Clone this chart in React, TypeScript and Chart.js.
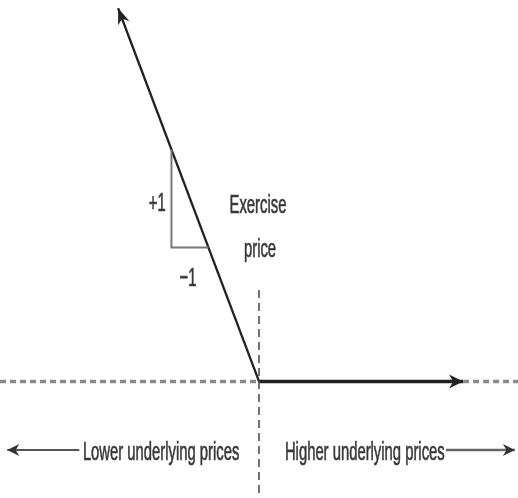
import React, { useEffect, useRef } from "react";
import { Chart, registerables } from "chart.js";

Chart.register(...registerables);

// ---- data (x = underlying price, y = payoff) ----
const exercisePrice = 50;
const payoffPrices = [22.8, 50, 89.4];
const payoffValues = [27.2, 0, 0];
const slopeTrianglePrices = [33.1, 33.1, 40.24];
const slopeTriangleValues = [16.9, 9.76, 9.76];
const zeroAxisLeftPrices = [0, 50];
const zeroAxisRightPrices = [89.4, 100];
const zeroAxisValues = [0, 0];
const strikeLineValues = [6.66, -8.5];
const lowerArrowPrices = [15.3, 1.4];
const higherArrowPrices = [86.1, 99.4];
const directionArrowValue = -5;

const labelTexts = ["Exercise", "price", "+1", "\u22121", "Lower underlying prices", "Higher underlying prices"];
const labelPrices = [49.8, 50.2, 32.0, 36.3, 16.0, 55.0];
const labelValues = [12.27, 9.07, 12.42, 6.96, -5.75, -5.75];
const labelAligns = ["center", "center", "right", "center", "left", "left"];

const X_MIN = 0, X_MAX = 100, Y_MIN = -8.5, Y_MAX = 27.8;

const pts = (xs: number[], ys: number[]) => xs.map((x, i) => ({ x, y: ys[i] }));

function arrowHead(ctx: CanvasRenderingContext2D, fx: number, fy: number, tx: number, ty: number, len: number, half: number, color: string) {
  const a = Math.atan2(ty - fy, tx - fx);
  ctx.save();
  ctx.translate(tx, ty);
  ctx.rotate(a);
  ctx.fillStyle = color;
  ctx.beginPath();
  ctx.moveTo(0, 0);
  ctx.lineTo(-len, -half);
  ctx.lineTo(-len * 0.7, 0);
  ctx.lineTo(-len, half);
  ctx.closePath();
  ctx.fill();
  ctx.restore();
}

const overlayPlugin = {
  id: "overlay",
  afterDatasetsDraw(chart: any) {
    const { ctx, scales } = chart;
    const px = (v: number) => scales.x.getPixelForValue(v);
    const py = (v: number) => scales.y.getPixelForValue(v);
    // arrow heads
    arrowHead(ctx, px(payoffPrices[1]), py(payoffValues[1]), px(payoffPrices[0]), py(payoffValues[0]), 16, 6, "#222");
    arrowHead(ctx, px(payoffPrices[1]), py(payoffValues[1]), px(payoffPrices[2]), py(payoffValues[2]), 14, 7, "#222");
    arrowHead(ctx, px(lowerArrowPrices[0]), py(directionArrowValue), px(lowerArrowPrices[1]), py(directionArrowValue), 12, 6, "#333");
    arrowHead(ctx, px(higherArrowPrices[0]), py(directionArrowValue), px(higherArrowPrices[1]), py(directionArrowValue), 12, 6, "#333");
    // labels
    ctx.save();
    ctx.fillStyle = "#333";
    ctx.strokeStyle = "#444";
    ctx.lineWidth = 0.7;
    ctx.font = "26px 'Liberation Sans', Arial, sans-serif";
    ctx.textBaseline = "alphabetic";
    labelTexts.forEach((t, i) => {
      ctx.save();
      ctx.translate(px(labelPrices[i]), py(labelValues[i]));
      ctx.scale(0.57, 1);
      ctx.textAlign = labelAligns[i] as CanvasTextAlign;
      ctx.fillText(t, 0, 0);
      ctx.strokeText(t, 0, 0);
      ctx.restore();
    });
    ctx.restore();
  },
};

export default function App() {
  const ref = useRef<HTMLCanvasElement | null>(null);
  useEffect(() => {
    if (!ref.current) return;
    const dashedAxis = { showLine: true, borderColor: "#8a8a8a", borderWidth: 3.5, borderDash: [6, 4], pointRadius: 0 };
    const chart = new Chart(ref.current, {
      type: "scatter",
      data: {
        datasets: [
          { ...dashedAxis, data: pts(zeroAxisLeftPrices, zeroAxisValues) },
          { ...dashedAxis, data: pts(zeroAxisRightPrices, zeroAxisValues) },
          {
            data: pts([exercisePrice, exercisePrice], strikeLineValues),
            showLine: true, borderColor: "#444", borderWidth: 1.5, borderDash: [8, 5], pointRadius: 0,
          },
          {
            data: pts(slopeTrianglePrices, slopeTriangleValues),
            showLine: true, borderColor: "#777", borderWidth: 2, pointRadius: 0,
          },
          {
            data: pts(payoffPrices.slice(0, 2), payoffValues.slice(0, 2)),
            showLine: true, borderColor: "#222", borderWidth: 2.3, pointRadius: 0,
          },
          {
            data: pts(payoffPrices.slice(1), payoffValues.slice(1)),
            showLine: true, borderColor: "#222", borderWidth: 3.5, pointRadius: 0,
          },
          {
            data: pts(lowerArrowPrices, [directionArrowValue, directionArrowValue]),
            showLine: true, borderColor: "#555", borderWidth: 2, pointRadius: 0,
          },
          {
            data: pts(higherArrowPrices, [directionArrowValue, directionArrowValue]),
            showLine: true, borderColor: "#666", borderWidth: 2.5, pointRadius: 0,
          },
        ],
      },
      options: {
        animation: false,
        responsive: false,
        layout: { padding: 0 },
        scales: {
          x: { type: "linear", min: X_MIN, max: X_MAX, display: false },
          y: { type: "linear", min: Y_MIN, max: Y_MAX, display: false },
        },
        plugins: { legend: { display: false }, tooltip: { enabled: false } },
        elements: { line: { tension: 0 } },
      },
      plugins: [overlayPlugin],
    });
    return () => chart.destroy();
  }, []);
  return (
    <div style={{ position: "fixed", left: 0, top: 0, width: 518, height: 498, background: "#fff" }}>
      <canvas ref={ref} width={518} height={498} />
    </div>
  );
}
